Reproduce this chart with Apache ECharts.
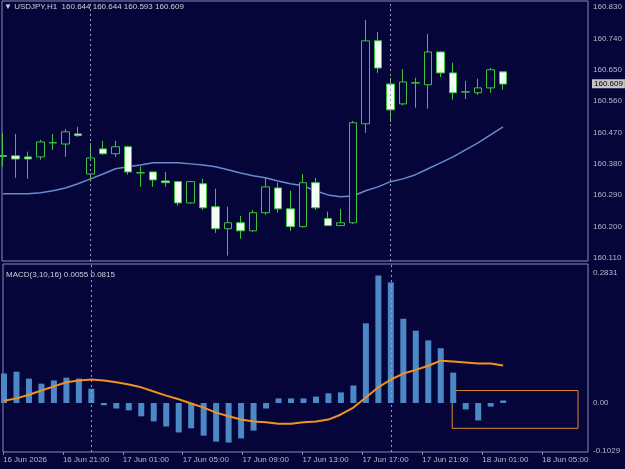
<!DOCTYPE html>
<html>
<head>
<meta charset="utf-8">
<script src="https://cdn.jsdelivr.net/npm/echarts@6/dist/echarts.min.js"></script>
<style>
html,body{margin:0;padding:0;background:#05053a;}
#chart{width:625px;height:469px;}
</style>
</head>
<body>
<div id="chart"></div>
<script>
// ---- data ----
const symbolName = 'USDJPY,H1';
const openP  = [160.401,160.403,160.400,160.400,160.440,160.437,160.466,160.351,160.423,160.409,160.429,160.354,160.357,160.331,160.329,160.268,160.323,160.257,160.194,160.211,160.188,160.240,160.311,160.251,160.200,160.326,160.223,160.203,160.211,160.495,160.733,160.609,160.552,160.612,160.607,160.701,160.641,160.586,160.584,160.598,160.644];
const closeP = [160.404,160.394,160.394,160.443,160.441,160.472,160.461,160.397,160.409,160.429,160.357,160.355,160.334,160.326,160.268,160.329,160.254,160.194,160.211,160.188,160.240,160.314,160.251,160.200,160.326,160.254,160.203,160.211,160.498,160.733,160.655,160.535,160.615,160.613,160.701,160.641,160.584,160.587,160.598,160.650,160.609];
const highP  = [160.469,160.466,160.415,160.449,160.466,160.480,160.486,160.440,160.446,160.446,160.432,160.372,160.357,160.357,160.331,160.331,160.337,160.309,160.257,160.231,160.248,160.340,160.326,160.303,160.351,160.340,160.243,160.251,160.503,160.793,160.758,160.627,160.652,160.627,160.753,160.703,160.670,160.618,160.624,160.655,160.644];
const lowP   = [160.372,160.340,160.337,160.392,160.420,160.400,160.458,160.329,160.406,160.400,160.349,160.314,160.314,160.314,160.260,160.265,160.248,160.182,160.117,160.165,160.185,160.234,160.240,160.188,160.197,160.248,160.203,160.203,160.208,160.469,160.641,160.500,160.548,160.541,160.538,160.629,160.564,160.566,160.578,160.584,160.593];
const maValues = [160.294,160.294,160.294,160.297,160.303,160.311,160.323,160.337,160.351,160.366,160.372,160.377,160.383,160.383,160.383,160.380,160.377,160.372,160.363,160.354,160.346,160.340,160.331,160.323,160.317,160.303,160.291,160.286,160.288,160.303,160.314,160.329,160.337,160.349,160.366,160.383,160.400,160.420,160.440,160.463,160.486];
const macdHist = [0.064,0.068,0.053,0.042,0.049,0.055,0.053,0.031,-0.005,-0.012,-0.016,-0.029,-0.040,-0.051,-0.064,-0.055,-0.071,-0.084,-0.086,-0.077,-0.060,-0.012,0.010,0.010,0.010,0.014,0.021,0.023,0.038,0.173,0.277,0.262,0.183,0.157,0.136,0.119,0.066,-0.014,-0.038,-0.008,0.0055];
const macdSignal = [0.005,0.010,0.018,0.027,0.036,0.045,0.049,0.051,0.049,0.045,0.040,0.034,0.025,0.016,0.008,-0.001,-0.010,-0.021,-0.029,-0.036,-0.040,-0.042,-0.045,-0.045,-0.042,-0.040,-0.036,-0.025,-0.010,0.012,0.034,0.051,0.064,0.072,0.081,0.092,0.090,0.088,0.086,0.086,0.0815];
const priceTicks = [160.110,160.200,160.290,160.380,160.470,160.560,160.650,160.740,160.830];
const macdTicks = [-0.1029, 0, 0.2831];
const xTickLabels = ['16 Jun 2026','16 Jun 21:00','17 Jun 01:00','17 Jun 05:00','17 Jun 09:00','17 Jun 13:00','17 Jun 17:00','17 Jun 21:00','18 Jun 01:00','18 Jun 05:00'];
const xTickBars = [-0.08,4.72,9.52,14.32,19.12,23.92,28.72,33.52,38.32,43.12];
const daySeparators = [7, 31];
const noteBox = [[35.92, 0.027], [46.0, -0.055]];

// ---- build ----
const n = openP.length;
const last = n - 1;
const candleData = openP.map((o, i) => [i, o, closeP[i], lowP[i], highP[i]]);
const maData = maValues.map((v, i) => [i, v]);
const histData = macdHist.map((v, i) => [i, v]);
const sigData = macdSignal.map((v, i) => [i, v]);

const BG = '#05053a';
const FRAME = '#8c8cb4';
const TXT = '#b8b8cc';
const FONT = 'Liberation Sans';
const GREEN = '#3fc43f';

const xMin = -0.08, xMax = 46.8;

const chart = echarts.init(document.getElementById('chart'), null, {renderer: 'canvas'});
chart.setOption({
  backgroundColor: BG,
  animation: false,
  textStyle: {fontFamily: FONT},
  title: [
    {text: '\u25BC ' + symbolName + '  ' + [openP[last], highP[last], lowP[last], closeP[last]].map(v => v.toFixed(3)).join(' '),
     left: 4, top: 3, padding: 0, textStyle: {color: '#d0d0dc', fontSize: 8, fontWeight: 'normal', fontFamily: FONT}},
    {text: 'MACD(3,10,16) ' + macdHist[last].toFixed(4) + ' ' + macdSignal[last].toFixed(4),
     left: 6, top: 271, padding: 0, textStyle: {color: '#d0d0dc', fontSize: 8, fontWeight: 'normal', fontFamily: FONT}}
  ],
  grid: [
    {left: 2, right: 37, top: 1, height: 260, show: true, borderColor: FRAME, borderWidth: 1, backgroundColor: 'transparent'},
    {left: 2, right: 37, top: 264, height: 188, show: true, borderColor: FRAME, borderWidth: 1, backgroundColor: 'transparent'}
  ],
  xAxis: [
    {gridIndex: 0, type: 'value', min: xMin, max: xMax, show: false},
    {gridIndex: 1, type: 'value', min: xMin, max: xMax, position: 'bottom',
     axisLine: {show: false, onZero: false}, splitLine: {show: false},
     axisTick: {show: true, customValues: xTickBars, length: 3, lineStyle: {color: FRAME}},
     axisLabel: {show: true, customValues: xTickBars, align: 'left', margin: 4, color: TXT, fontSize: 8, fontFamily: FONT,
       formatter: function (v) { let k = 0, best = 1e9; xTickBars.forEach((b, j) => { const d = Math.abs(b - v); if (d < best) { best = d; k = j; } }); return xTickLabels[k]; }}}
  ],
  yAxis: [
    {gridIndex: 0, type: 'value', position: 'right', min: 160.1014, max: 160.8472,
     axisLine: {show: false, onZero: false}, splitLine: {show: false},
     axisTick: {show: false},
     axisLabel: {show: true, customValues: priceTicks, margin: 5, color: TXT, fontSize: 8, fontFamily: FONT, formatter: v => v.toFixed(3)}},
    {gridIndex: 1, type: 'value', position: 'right', min: -0.1065, max: 0.302,
     axisLine: {show: false, onZero: false}, splitLine: {show: false},
     axisTick: {show: false},
     axisLabel: {show: true, customValues: macdTicks, margin: 5, color: TXT, fontSize: 8, fontFamily: FONT,
       formatter: v => (Math.abs(v) < 1e-9 ? '0.00' : v.toFixed(4))}}
  ],
  series: [
    {type: 'candlestick', xAxisIndex: 0, yAxisIndex: 0, data: candleData, encode: {x: 0, y: [1, 2, 3, 4]},
     barWidth: 8,
     itemStyle: {color: BG, color0: '#f2fff2', borderColor: GREEN, borderColor0: GREEN, borderWidth: 1},
     markLine: {silent: true, symbol: 'none',
       data: daySeparators.map(d => ({xAxis: d, lineStyle: {color: '#9a9abc', type: [2, 3], width: 1}, label: {show: false}}))
         .concat([{yAxis: closeP[last], lineStyle: {color: 'rgba(0,0,0,0)', width: 0}, label: {show: true, position: 'end', distance: 4,
           formatter: closeP[last].toFixed(3), color: '#000', backgroundColor: '#c4c4c4', fontSize: 8, fontFamily: FONT, padding: [1, 2, 0, 2]}}])}},
    {type: 'line', xAxisIndex: 0, yAxisIndex: 0, data: maData, showSymbol: false, symbol: 'none',
     lineStyle: {color: '#6a8acb', width: 1.5}, z: 1},
    {type: 'bar', xAxisIndex: 1, yAxisIndex: 1, data: histData, barWidth: 6,
     itemStyle: {color: '#4d88c6'},
     markLine: {silent: true, symbol: 'none',
       data: daySeparators.map(d => ({xAxis: d})), lineStyle: {color: '#9a9abc', type: [2, 3], width: 1}, label: {show: false}},
     markArea: {silent: true, data: [[{coord: noteBox[0]}, {coord: noteBox[1]}]],
       itemStyle: {color: 'rgba(0,0,0,0)', borderColor: '#e08a2a', borderWidth: 1}}},
    {type: 'line', xAxisIndex: 1, yAxisIndex: 1, data: sigData, showSymbol: false, symbol: 'none',
     lineStyle: {color: '#f0921e', width: 2}, z: 3}
  ]
});
</script>
</body>
</html>
